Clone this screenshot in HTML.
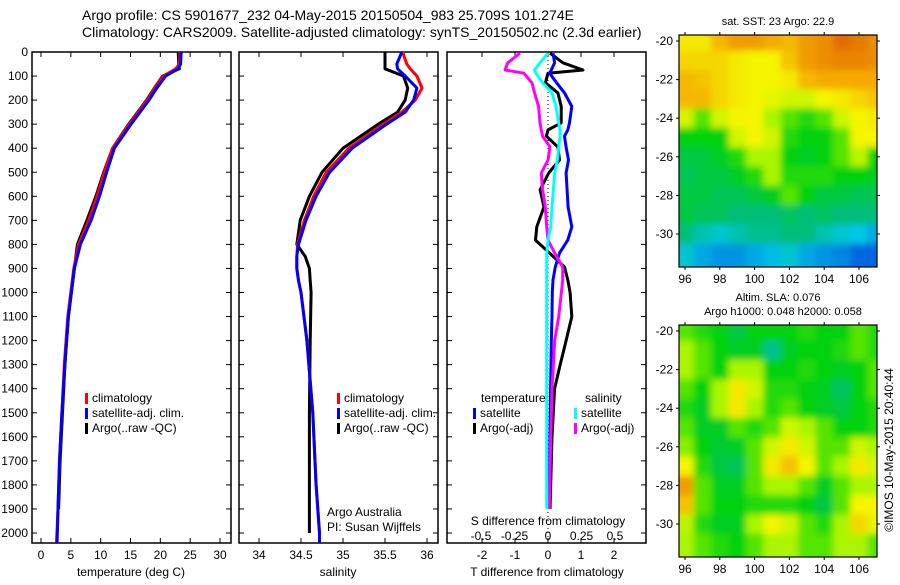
<!DOCTYPE html>
<html><head><meta charset="utf-8"><style>
body{margin:0;background:#fff;}
svg text{font-family:"Liberation Sans",sans-serif;fill:#000;}
</style></head><body>
<svg id="s" width="900" height="580" xmlns="http://www.w3.org/2000/svg">
<defs><filter id="blur" x="-20%" y="-20%" width="140%" height="140%"><feGaussianBlur stdDeviation="3.5"/></filter></defs>
<text x="82" y="20" font-size="14">Argo profile: CS 5901677_232 04-May-2015 20150504_983 25.709S 101.274E</text>
<text x="82" y="37" font-size="14">Climatology: CARS2009. Satellite-adjusted climatology: synTS_20150502.nc (2.3d earlier)</text>
<text transform="translate(893,450) rotate(-90)" text-anchor="middle" font-size="12">©IMOS 10-May-2015 20:40:44</text>
</svg>
<script>
// ---- data ----
const depthTicks=[0,100,200,300,400,500,600,700,800,900,1000,1100,1200,1300,1400,1500,1600,1700,1800,1900,2000];
const tDepth=[0,50,70,100,150,200,300,400,500,600,700,800,900,1000,1100,1300,1500,1700,1900,2040];
const tClim=[23.3,23.2,22.6,20.5,19.1,17.8,14.8,12.0,10.6,9.4,8.0,6.3,5.5,5.0,4.5,3.9,3.5,3.1,2.85,2.6];
const tSat=[23.5,23.4,23.0,20.9,19.4,18.1,15.1,12.3,11.0,9.8,8.4,6.6,5.6,5.1,4.6,4.0,3.5,3.1,2.85,2.7];
const tArgo=[23.0,23.1,23.2,20.4,19.0,17.7,14.7,12.0,10.5,9.2,7.7,6.1,5.6,5.1,4.6,4.0,3.6,3.2,2.95,null];
const sDepth=[0,50,70,100,150,200,250,300,400,500,600,700,800,850,900,950,1000,1200,1500,1800,2000,2040];
const sClim=[35.71,35.76,35.8,35.88,35.94,35.86,35.7,35.48,35.07,34.8,34.65,34.54,34.46,34.45,34.45,34.47,34.5,34.57,34.64,34.68,34.72,34.72];
const sSat=[35.70,35.64,35.65,35.74,35.88,35.84,35.74,35.52,35.11,34.84,34.68,34.56,34.47,34.45,34.45,34.47,34.5,34.57,34.64,34.68,34.72,34.72];
const sArgo=[35.5,35.5,35.5,35.72,35.77,35.74,35.65,35.42,35.0,34.75,34.6,34.49,34.45,34.55,34.6,34.61,34.62,34.61,34.6,34.6,34.6,null];
const dDepth=[5,45,75,88,128,170,226,295,324,350,395,449,503,573,644,727,782,836,894,948,1000,1100,1200,1300,1400,1600,1900];
const dTArgo=[0.06,0.45,1.06,0.0,-0.08,0.3,0.4,0.4,0.0,-0.05,0.3,0.35,0.02,-0.24,-0.12,-0.34,-0.38,0.05,0.5,0.6,0.67,0.72,0.55,0.37,0.2,0.12,0.06];
const dTSat=[0.15,0.2,0.1,0.05,0.26,0.5,0.72,0.65,0.6,0.5,0.55,0.62,0.55,0.58,0.61,0.72,0.6,0.35,0.22,0.15,0.13,0.12,0.1,0.09,0.08,0.06,0.03];
const dSArgo=[-0.21,-0.3,-0.32,-0.18,-0.12,-0.1,-0.07,-0.06,-0.05,-0.04,0.015,0.0,-0.05,-0.04,-0.02,-0.01,0.0,0.05,0.11,0.11,0.1,0.08,0.05,0.04,0.03,0.02,0.01];
const dSSat=[0.0,-0.06,-0.1,-0.09,-0.04,0.03,0.06,0.08,0.09,0.09,0.08,0.07,0.05,0.04,0.03,0.02,0.0,-0.01,-0.01,-0.01,-0.01,-0.01,-0.01,-0.01,-0.01,-0.01,-0.01];
const tTicks=[0,5,10,15,20,25,30];
const sTicks=[34,34.5,35,35.5,36];
const dtTicks=[-2,-1,0,1,2];
const dsTicks=[-0.5,-0.25,0,0.25,0.5];
const dsTickLabels=["-0.5","-0.25","0","0.25","0.5"];
const latTicks=[-20,-22,-24,-26,-28,-30];
const lonTicks=[96,98,100,102,104,106];
const lons=[96,97,98,99,100,101,102,103,104,105,106,107];
const lats=[-20,-21,-22,-23,-24,-25,-26,-27,-28,-29,-30,-31];
const sstGrid=[
[0.62,0.62,0.7,0.75,0.75,0.72,0.7,0.75,0.78,0.85,0.82,0.78],
[0.65,0.65,0.65,0.62,0.6,0.6,0.68,0.75,0.78,0.8,0.8,0.78],
[0.7,0.68,0.65,0.62,0.6,0.6,0.62,0.7,0.72,0.72,0.72,0.72],
[0.7,0.7,0.65,0.62,0.6,0.58,0.55,0.55,0.6,0.62,0.65,0.68],
[0.55,0.45,0.55,0.6,0.6,0.5,0.45,0.42,0.45,0.55,0.6,0.62],
[0.4,0.4,0.4,0.55,0.6,0.55,0.42,0.4,0.4,0.45,0.6,0.6],
[0.35,0.35,0.38,0.42,0.5,0.5,0.4,0.38,0.4,0.45,0.52,0.4],
[0.33,0.35,0.35,0.38,0.42,0.5,0.42,0.42,0.42,0.4,0.4,0.38],
[0.35,0.35,0.33,0.33,0.35,0.38,0.45,0.4,0.35,0.35,0.33,0.33],
[0.35,0.33,0.33,0.3,0.3,0.3,0.32,0.3,0.32,0.3,0.3,0.3],
[0.3,0.25,0.22,0.25,0.28,0.28,0.3,0.3,0.25,0.22,0.2,0.15],
[0.22,0.15,0.12,0.12,0.15,0.18,0.22,0.15,0.12,0.1,0.05,0.05]];
const slaGrid=[
[0.45,0.42,0.4,0.35,0.4,0.4,0.4,0.42,0.4,0.4,0.45,0.42],
[0.5,0.45,0.4,0.38,0.38,0.28,0.38,0.4,0.4,0.42,0.45,0.42],
[0.5,0.45,0.4,0.5,0.5,0.4,0.4,0.42,0.4,0.38,0.4,0.45],
[0.45,0.4,0.5,0.62,0.55,0.42,0.42,0.4,0.38,0.32,0.4,0.45],
[0.42,0.38,0.5,0.62,0.5,0.42,0.45,0.4,0.38,0.35,0.4,0.42],
[0.45,0.38,0.38,0.45,0.42,0.45,0.55,0.5,0.45,0.4,0.4,0.42],
[0.48,0.4,0.36,0.38,0.45,0.55,0.62,0.55,0.45,0.45,0.55,0.5],
[0.6,0.42,0.35,0.33,0.45,0.62,0.68,0.6,0.45,0.5,0.62,0.55],
[0.75,0.45,0.38,0.38,0.45,0.5,0.5,0.45,0.38,0.45,0.5,0.5],
[0.68,0.45,0.4,0.4,0.42,0.42,0.42,0.4,0.35,0.45,0.6,0.6],
[0.52,0.42,0.38,0.38,0.5,0.6,0.55,0.45,0.42,0.5,0.65,0.58],
[0.5,0.45,0.42,0.4,0.45,0.5,0.5,0.45,0.45,0.5,0.5,0.45]];
// ---- drawing ----
const svg=document.getElementById('s');
const NS='http://www.w3.org/2000/svg';
function mk(tag,attrs,parent){const e=document.createElementNS(NS,tag);for(const k in attrs)e.setAttribute(k,attrs[k]);(parent||svg).appendChild(e);return e;}
const Y0=52,Y1=543;
const yD=d=>52+d*0.2405;
function lin(d0,d1,r0,r1){return v=>r0+(v-d0)*(r1-r0)/(d1-d0);}
const xT=lin(0,30,41,220), xS=lin(34,36,259,427), xDT=lin(0,1,548,581), xDS=lin(0,1,548,682);
function panel(x0,x1,name){
 const r=mk('rect',{x:x0,y:Y0,width:x1-x0,height:Y1-Y0,fill:'none',stroke:'#000','stroke-width':1.5});
 
 
 depthTicks.forEach(d=>{mk('line',{x1:x0,x2:x0+5,y1:yD(d),y2:yD(d),stroke:'#000'});mk('line',{x1:x1-5,x2:x1,y1:yD(d),y2:yD(d),stroke:'#000'});});
}
function xticks(ticks,xf,y,labels,name){
 ticks.forEach((t,i)=>{const x=xf(t);mk('line',{x1:x,x2:x,y1:Y1,y2:Y1-5,stroke:'#000'});mk('line',{x1:x,x2:x,y1:Y0,y2:Y0+5,stroke:'#000'});
 const tx=mk('text',{x:x,y:y,'font-size':12,'text-anchor':'middle'});tx.textContent=labels?labels[i]:String(t);
 
 });
}
function line(ds,vs,xf,color,name,w){
 let p='';ds.forEach((d,i)=>{if(vs[i]===null)return;p+=(p?'L':'M')+xf(vs[i]).toFixed(1)+','+yD(d).toFixed(1);});
 const e=mk('path',{d:p,fill:'none',stroke:color,'stroke-width':w||3,'stroke-linejoin':'round'});
 
 
}
function txt(x,y,s,name,anchor,size){const t=mk('text',{x:x,y:y,'font-size':size||12,'text-anchor':anchor||'start'});t.textContent=s;
 
 return t;}
panel(32,231,'temperature-panel');panel(239,438,'salinity-panel');panel(447,646,'difference-panel');
depthTicks.forEach(d=>txt(28,yD(d)+4,String(d),'depth-tick-label','end'));
xticks(tTicks,xT,559,null,'temperature-tick-label');
xticks(sTicks,xS,559,null,'salinity-tick-label');
xticks(dtTicks,xDT,559,null,'t-diff-tick-label');
dsTicks.forEach((t,i)=>{txt(xDS(t),540,dsTickLabels[i],'s-diff-tick-label','middle');});
txt(131,576,'temperature (deg C)','temperature-axis-title','middle');
txt(338,576,'salinity','salinity-axis-title','middle');
txt(547,576,'T difference from climatology','t-diff-axis-title','middle');
txt(548,525,'S difference from climatology','s-diff-axis-title','middle');
txt(327,516,'Argo Australia','argo-australia-text');
txt(327,531,'PI: Susan Wijffels','pi-text');
// profiles
line(tDepth,tArgo,xT,'#000','temp-argo-line');
line(tDepth,tClim,xT,'#f00','temp-climatology-line');
line(tDepth,tSat,xT,'#00f','temp-satellite-line');
line(sDepth,sArgo,xS,'#000','sal-argo-line');
line(sDepth,sClim,xS,'#f00','sal-climatology-line');
line(sDepth,sSat,xS,'#00f','sal-satellite-line');
mk('line',{x1:548,x2:548,y1:Y0,y2:Y1,stroke:'#000','stroke-dasharray':'1,3'});
line(dDepth,dTArgo,xDT,'#000','t-diff-argo-line');
line(dDepth,dTSat,xDT,'#00f','t-diff-satellite-line');
line(dDepth,dSArgo,xDS,'#f0f','s-diff-argo-line');
line(dDepth,dSSat,xDS,'#0ff','s-diff-satellite-line');
// legends
function leg(x,y,c,s,name){mk('rect',{x:x,y:y-9,width:3,height:11,fill:c});txt(x+7,y,s,name);}
[[85,'climatology','#f00'],[85,'satellite-adj. clim.','#00f'],[85,'Argo(..raw -QC)','#000']].forEach((a,i)=>leg(a[0],402+i*15,a[2],a[1],'temp-legend-entry'));
[[337,'climatology','#f00'],[337,'satellite-adj. clim.','#00f'],[337,'Argo(..raw -QC)','#000']].forEach((a,i)=>leg(a[0],402+i*15,a[2],a[1],'sal-legend-entry'));
txt(481,402,'temperature','legend-temperature-header');
txt(585,402,'salinity','legend-salinity-header');
leg(473,417,'#00f','satellite','legend-t-satellite');
leg(473,432,'#000','Argo(-adj)','legend-t-argo');
leg(574,417,'#0ff','satellite','legend-s-satellite');
leg(574,432,'#f0f','Argo(-adj)','legend-s-argo');
// maps
function cmap(v){const st=[[0,[0,70,220]],[0.2,[0,200,230]],[0.3,[0,190,120]],[0.4,[0,210,10]],[0.5,[170,245,0]],[0.6,[245,245,0]],[0.72,[245,170,0]],[0.85,[225,110,0]],[1,[180,50,0]]];
 for(let i=1;i<st.length;i++){if(v<=st[i][0]){const a=st[i-1],b=st[i],f=(v-a[0])/(b[0]-a[0]);return 'rgb('+a[1].map((c,k)=>Math.round(c+(b[1][k]-c)*f)).join(',')+')';}}return 'rgb(180,50,0)';}
function map(top,bot,grid,name,id){
 const xL=lin(96,106,685,859), yL=lin(-20,-30,top+6,top+6+193);
 const cp=mk('clipPath',{id:id});mk('rect',{x:679,y:top,width:198,height:bot-top},cp);
 const outer=mk('g',{'clip-path':'url(#'+id+')'});
 const g=mk('g',{filter:'url(#blur)'},outer);
 
 
 const nI=lons.length,nJ=lats.length;
 lats.forEach((la,j)=>lons.forEach((lo,i)=>{
  const l0=lo-0.5-(i===0?2:0), l1=lo+0.5+(i===nI-1?2:0);
  const a0=la+0.5+(j===0?2:0), a1=la-0.5-(j===nJ-1?2:0);
  const x=xL(l0),y=yL(a0);
  const c=mk('rect',{x:x.toFixed(1),y:y.toFixed(1),width:(xL(l1)-x+0.6).toFixed(1),height:(yL(a1)-y+0.6).toFixed(1),fill:cmap(grid[j][i])},g);
  
  
 }));
 mk('rect',{x:679,y:top,width:198,height:bot-top,fill:'none',stroke:'#000','stroke-width':1.2});
 latTicks.forEach(l=>{const y=yL(l);mk('line',{x1:676,x2:679,y1:y,y2:y,stroke:'#000'});mk('line',{x1:877,x2:880,y1:y,y2:y,stroke:'#000'});txt(673,y+4,String(l),'lat-tick-label','end');});
 lonTicks.forEach(l=>{const x=xL(l);mk('line',{x1:x,x2:x,y1:bot,y2:bot+3,stroke:'#000'});mk('line',{x1:x,x2:x,y1:top-3,y2:top,stroke:'#000'});txt(x,bot+16,String(l),'lon-tick-label','middle');});
}
map(35,267,sstGrid,'sst-map','c1');
map(325,557,slaGrid,'sla-map','c2');
txt(778,25,'sat. SST: 23 Argo: 22.9','sst-map-title','middle',11);
txt(778,301,'Altim. SLA: 0.076','sla-map-title','middle',11);
txt(783,315,'Argo h1000: 0.048 h2000: 0.058','sla-map-subtitle','middle',11);
</script>
</body></html>
